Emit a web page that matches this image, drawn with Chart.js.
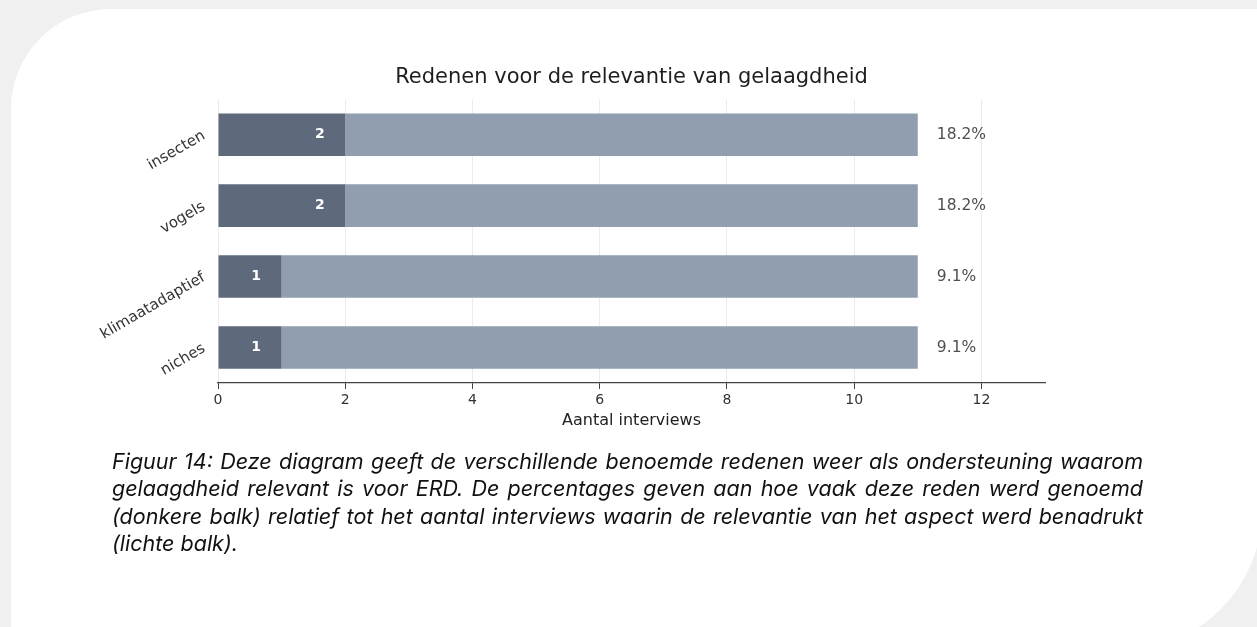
<!DOCTYPE html>
<html>
<head>
<meta charset="utf-8">
<script src="https://cdn.jsdelivr.net/npm/chart.js@4"></script>
<style>
  html, body { margin:0; padding:0; }
  body { width:1257px; height:627px; background:#f0f0f0; position:relative; overflow:hidden; }
  #card { position:absolute; left:11px; top:9px; width:1251px; height:641px; background:#ffffff;
          border-top-left-radius:100px; border-bottom-right-radius:140px; }
  #wrap { position:absolute; left:0; top:0; width:1257px; height:627px; }
  #caption { position:absolute; left:112px; top:448px; width:1031px; font-family:'Inter', sans-serif;
             font-style:italic; font-size:21.5px; line-height:27.3px; color:#111; }
  #caption div { text-align:justify; text-align-last:justify; white-space:nowrap; }
  #caption div.last { text-align-last:left; }
</style>
</head>
<body>
<div id="card"></div>
<div id="wrap"><canvas id="c" width="1257" height="627"></canvas></div>
<div id="caption">
  <div>Figuur 14: Deze diagram geeft de verschillende benoemde redenen weer als ondersteuning waarom</div>
  <div>gelaagdheid relevant is voor ERD. De percentages geven aan hoe vaak deze reden werd genoemd</div>
  <div>(donkere balk) relatief tot het aantal interviews waarin de relevantie van het aspect werd benadrukt</div>
  <div class="last">(lichte balk).</div>
</div>
<script>
const categories = ['insecten', 'vogels', 'klimaatadaptief', 'niches'];
const counts = [2, 2, 1, 1];
const totals = [11, 11, 11, 11];
const xTicks = [0, 2, 4, 6, 8, 10, 12];
const chartTitle = 'Redenen voor de relevantie van gelaagdheid';
const xTitle = 'Aantal interviews';

const DARK = '#5e6a7c';
const LIGHT = '#909eb0';

const labelPlugin = {
  id: 'barLabels',
  afterDatasetsDraw(chart) {
    const ctx = chart.ctx;
    const xs = chart.scales.x, ys = chart.scales.y;
    ctx.save();
    categories.forEach((cat, i) => {
      const y = ys.getPixelForValue(i);
      ctx.textBaseline = 'middle';
      ctx.textAlign = 'center';
      ctx.fillStyle = '#ffffff';
      ctx.font = 'bold 14px "DejaVu Sans"';
      ctx.fillText(String(counts[i]), xs.getPixelForValue(counts[i] - 0.4), y);
      ctx.textAlign = 'left';
      ctx.fillStyle = '#4f4f4f';
      ctx.font = '15.5px "DejaVu Sans"';
      const pct = (counts[i] / totals[i] * 100).toFixed(1) + '%';
      ctx.fillText(pct, xs.getPixelForValue(totals[i] + 0.3), y);
    });
    ctx.restore();
  }
};

new Chart(document.getElementById('c'), {
  type: 'bar',
  data: {
    labels: categories,
    datasets: [
      { label: 'genoemd', data: counts.map(v => [0, v]), backgroundColor: DARK, order: 1 },
      { label: 'benadrukt', data: counts.map((v, i) => [v, totals[i]]), backgroundColor: LIGHT, order: 2 }
    ]
  },
  options: {
    indexAxis: 'y',
    responsive: false,
    animation: false,
    events: [],
    layout: { padding: { left: 0, right: 212, top: 65, bottom: 197 } },
    datasets: { bar: { grouped: false, barPercentage: 0.6, categoryPercentage: 1.0 } },
    plugins: {
      legend: { display: false },
      tooltip: { enabled: false },
      title: {
        display: true, text: chartTitle, fullSize: false,
        color: '#1e1e1e', font: { family: 'DejaVu Sans', size: 21, weight: 'normal' },
        padding: { top: 0, bottom: 9 }
      }
    },
    scales: {
      x: {
        type: 'linear', min: 0, max: 13,
        afterBuildTicks: s => { s.ticks = xTicks.map(v => ({ value: v })); },
        afterFit: s => { s.height = 47; },
        grid: { display: true, color: '#ebebeb', lineWidth: 1, drawTicks: true, tickLength: 6, tickColor: '#444' },
        border: { display: true, color: '#444', width: 1.2 },
        ticks: { color: '#333', font: { family: 'DejaVu Sans', size: 14 }, padding: 3 },
        title: { display: true, text: xTitle, color: '#222', font: { family: 'DejaVu Sans', size: 16 }, padding: { top: 2, bottom: 0 } }
      },
      y: {
        type: 'category',
        afterFit: s => { s.width = 218; },
        grid: { display: false },
        border: { display: false },
        ticks: { color: '#333', font: { family: 'DejaVu Sans', size: 15 }, padding: 6, minRotation: 30, maxRotation: 30 }
      }
    }
  },
  plugins: [labelPlugin]
});
</script>
</body>
</html>
